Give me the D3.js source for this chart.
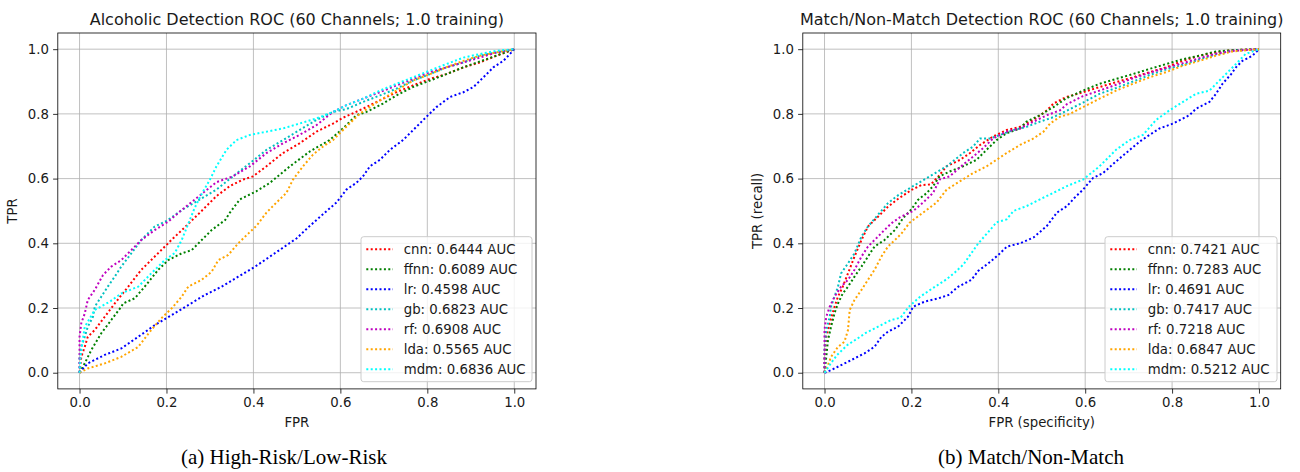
<!DOCTYPE html>
<html><head><meta charset="utf-8">
<script src="https://cdn.jsdelivr.net/npm/d3@7"></script>
<style>body{margin:0;background:#fff}svg{display:block}</style>
</head><body><svg id="c" width="1300" height="472"></svg>
<script>
// ---------------- data ----------------
const models = ["cnn", "ffnn", "lr", "gb", "rf", "lda", "mdm"];
const colors = ["#ff0000", "#008000", "#0000ff", "#00bfbf", "#bf00bf", "#ffa500", "#00ffff"];
const aucAlc = ["0.6444", "0.6089", "0.4598", "0.6823", "0.6908", "0.5565", "0.6836"];
const aucMat = ["0.7421", "0.7283", "0.4691", "0.7417", "0.7218", "0.6847", "0.5212"];
const tickValues = [0, 0.2, 0.4, 0.6, 0.8, 1.0];

// Alcoholic detection ROC curves [FPR, TPR]
const alcCnn = [[0,0],[0.004,0.049],[0.012,0.08],[0.019,0.111],[0.035,0.132],[0.058,0.173],[0.081,0.214],[0.112,0.266],[0.142,0.318],[0.173,0.359],[0.215,0.415],[0.238,0.444],[0.277,0.495],[0.315,0.546],[0.346,0.577],[0.376,0.597],[0.399,0.607],[0.43,0.638],[0.468,0.679],[0.506,0.709],[0.545,0.745],[0.583,0.77],[0.606,0.788],[0.652,0.816],[0.691,0.842],[0.729,0.867],[0.767,0.888],[0.806,0.908],[0.844,0.923],[0.883,0.944],[0.921,0.959],[0.959,0.98],[0.99,0.995],[1,1]];
const alcFfnn = [[0,0],[0.012,0.029],[0.027,0.07],[0.05,0.122],[0.073,0.163],[0.096,0.204],[0.1,0.214],[0.127,0.23],[0.15,0.266],[0.181,0.318],[0.204,0.348],[0.235,0.369],[0.258,0.379],[0.281,0.41],[0.304,0.441],[0.335,0.472],[0.346,0.495],[0.369,0.536],[0.407,0.561],[0.438,0.587],[0.484,0.638],[0.53,0.684],[0.575,0.719],[0.606,0.755],[0.637,0.796],[0.66,0.806],[0.698,0.832],[0.729,0.857],[0.767,0.883],[0.806,0.903],[0.844,0.923],[0.883,0.944],[0.921,0.962],[0.959,0.98],[0.99,0.995],[1,1]];
const alcLr = [[0,0],[0.019,0.029],[0.058,0.055],[0.096,0.075],[0.135,0.111],[0.173,0.147],[0.212,0.178],[0.25,0.209],[0.288,0.24],[0.327,0.266],[0.365,0.297],[0.404,0.328],[0.45,0.37],[0.499,0.415],[0.53,0.454],[0.56,0.49],[0.591,0.526],[0.614,0.566],[0.637,0.587],[0.652,0.607],[0.668,0.638],[0.691,0.658],[0.714,0.689],[0.744,0.719],[0.775,0.76],[0.798,0.791],[0.821,0.821],[0.852,0.852],[0.883,0.867],[0.906,0.883],[0.929,0.913],[0.952,0.944],[0.975,0.964],[0.99,0.985],[1,1]];
const alcGb = [[0,0],[0,0.049],[0.004,0.08],[0.012,0.111],[0.019,0.142],[0.031,0.173],[0.035,0.204],[0.05,0.235],[0.065,0.266],[0.081,0.297],[0.096,0.328],[0.119,0.369],[0.142,0.41],[0.173,0.452],[0.2,0.469],[0.238,0.505],[0.277,0.536],[0.315,0.566],[0.353,0.607],[0.392,0.648],[0.43,0.689],[0.468,0.719],[0.506,0.75],[0.545,0.781],[0.583,0.806],[0.614,0.815],[0.652,0.837],[0.691,0.857],[0.729,0.878],[0.767,0.903],[0.806,0.923],[0.844,0.944],[0.883,0.959],[0.921,0.98],[0.959,0.99],[1,1]];
const alcRf = [[0,0],[0,0.07],[0,0.111],[0.004,0.153],[0.012,0.183],[0.019,0.225],[0.035,0.256],[0.054,0.302],[0.073,0.328],[0.096,0.348],[0.119,0.379],[0.142,0.41],[0.173,0.441],[0.204,0.467],[0.235,0.503],[0.261,0.531],[0.288,0.56],[0.315,0.589],[0.353,0.607],[0.392,0.638],[0.43,0.679],[0.468,0.709],[0.506,0.735],[0.545,0.765],[0.583,0.806],[0.614,0.827],[0.652,0.847],[0.691,0.867],[0.729,0.888],[0.767,0.908],[0.806,0.929],[0.844,0.944],[0.883,0.959],[0.921,0.974],[0.959,0.99],[1,1]];
const alcLda = [[0,0],[0.019,0.013],[0.058,0.029],[0.096,0.049],[0.135,0.08],[0.165,0.132],[0.188,0.168],[0.212,0.199],[0.235,0.235],[0.25,0.266],[0.281,0.287],[0.304,0.312],[0.319,0.348],[0.342,0.364],[0.365,0.4],[0.388,0.43],[0.407,0.454],[0.43,0.495],[0.453,0.526],[0.476,0.556],[0.491,0.597],[0.514,0.638],[0.537,0.674],[0.56,0.699],[0.583,0.719],[0.606,0.75],[0.621,0.77],[0.645,0.801],[0.668,0.821],[0.691,0.842],[0.729,0.872],[0.767,0.903],[0.806,0.923],[0.844,0.944],[0.883,0.964],[0.921,0.98],[0.959,0.99],[1,1]];
const alcMdm = [[0,0],[0.003,0.06],[0.012,0.142],[0.035,0.194],[0.07,0.22],[0.096,0.245],[0.135,0.266],[0.165,0.307],[0.196,0.348],[0.219,0.37],[0.235,0.41],[0.25,0.46],[0.265,0.51],[0.28,0.55],[0.3,0.597],[0.315,0.638],[0.338,0.689],[0.361,0.719],[0.392,0.735],[0.43,0.745],[0.468,0.755],[0.506,0.77],[0.545,0.786],[0.583,0.806],[0.614,0.827],[0.652,0.847],[0.691,0.872],[0.729,0.893],[0.767,0.913],[0.806,0.934],[0.844,0.954],[0.883,0.974],[0.921,0.985],[0.959,0.995],[1,1]];

// Match / non-match detection ROC curves [FPR, TPR]
const matCnn = [[0,0],[0,0.049],[0.004,0.111],[0.012,0.153],[0.023,0.204],[0.031,0.235],[0.042,0.266],[0.054,0.307],[0.069,0.359],[0.085,0.41],[0.1,0.452],[0.123,0.482],[0.146,0.513],[0.169,0.537],[0.2,0.565],[0.223,0.58],[0.245,0.582],[0.262,0.607],[0.281,0.638],[0.312,0.658],[0.335,0.679],[0.358,0.704],[0.388,0.73],[0.419,0.75],[0.45,0.76],[0.481,0.781],[0.512,0.811],[0.527,0.832],[0.556,0.852],[0.595,0.867],[0.633,0.883],[0.671,0.898],[0.71,0.913],[0.748,0.929],[0.786,0.944],[0.825,0.964],[0.863,0.98],[0.901,0.99],[0.939,0.997],[1,1]];
const matFfnn = [[0,0],[0.004,0.049],[0.008,0.101],[0.015,0.142],[0.023,0.184],[0.031,0.214],[0.042,0.245],[0.054,0.266],[0.069,0.297],[0.085,0.328],[0.1,0.359],[0.115,0.39],[0.138,0.41],[0.162,0.441],[0.181,0.478],[0.2,0.505],[0.215,0.534],[0.235,0.555],[0.25,0.577],[0.265,0.607],[0.288,0.622],[0.319,0.638],[0.35,0.658],[0.373,0.689],[0.396,0.719],[0.419,0.74],[0.45,0.755],[0.465,0.776],[0.496,0.796],[0.527,0.821],[0.556,0.848],[0.595,0.872],[0.633,0.893],[0.671,0.908],[0.71,0.923],[0.748,0.939],[0.786,0.954],[0.825,0.969],[0.863,0.98],[0.901,0.993],[0.939,0.997],[1,1]];
const matLr = [[0,0],[0.015,0.008],[0.054,0.034],[0.092,0.06],[0.115,0.08],[0.131,0.111],[0.146,0.127],[0.169,0.142],[0.192,0.173],[0.204,0.204],[0.231,0.22],[0.262,0.23],[0.285,0.24],[0.308,0.266],[0.338,0.287],[0.354,0.315],[0.377,0.338],[0.4,0.364],[0.42,0.39],[0.45,0.4],[0.481,0.418],[0.512,0.454],[0.535,0.495],[0.558,0.515],[0.575,0.54],[0.595,0.566],[0.618,0.602],[0.641,0.617],[0.671,0.653],[0.694,0.679],[0.725,0.714],[0.748,0.735],[0.771,0.755],[0.802,0.77],[0.84,0.796],[0.855,0.816],[0.886,0.837],[0.901,0.862],[0.916,0.893],[0.936,0.923],[0.947,0.944],[0.962,0.964],[0.985,0.98],[1,1]];
const matGb = [[0,0],[0,0.07],[0.004,0.132],[0.012,0.173],[0.015,0.204],[0.023,0.235],[0.031,0.266],[0.038,0.307],[0.054,0.338],[0.069,0.369],[0.085,0.421],[0.1,0.452],[0.123,0.488],[0.146,0.524],[0.169,0.548],[0.204,0.577],[0.242,0.607],[0.281,0.638],[0.319,0.679],[0.342,0.699],[0.358,0.724],[0.381,0.724],[0.404,0.735],[0.435,0.75],[0.465,0.76],[0.496,0.776],[0.527,0.79],[0.558,0.81],[0.595,0.835],[0.633,0.862],[0.671,0.88],[0.71,0.9],[0.748,0.92],[0.786,0.937],[0.825,0.952],[0.863,0.968],[0.901,0.984],[0.939,0.995],[1,1]];
const matRf = [[0,0],[0,0.08],[0,0.132],[0.004,0.173],[0.012,0.204],[0.023,0.235],[0.038,0.266],[0.054,0.287],[0.069,0.318],[0.085,0.359],[0.1,0.39],[0.115,0.41],[0.138,0.441],[0.154,0.462],[0.173,0.48],[0.204,0.5],[0.227,0.526],[0.25,0.556],[0.265,0.597],[0.288,0.607],[0.319,0.643],[0.342,0.668],[0.365,0.694],[0.388,0.724],[0.419,0.745],[0.45,0.755],[0.481,0.776],[0.512,0.796],[0.542,0.811],[0.558,0.83],[0.595,0.855],[0.633,0.872],[0.671,0.89],[0.71,0.91],[0.748,0.927],[0.786,0.942],[0.825,0.957],[0.863,0.972],[0.901,0.986],[0.939,0.995],[1,1]];
const matLda = [[0,0],[0.008,0.024],[0.015,0.049],[0.031,0.08],[0.046,0.096],[0.054,0.132],[0.058,0.194],[0.069,0.225],[0.085,0.256],[0.1,0.287],[0.115,0.318],[0.131,0.359],[0.146,0.39],[0.162,0.41],[0.177,0.43],[0.196,0.464],[0.227,0.495],[0.258,0.526],[0.281,0.566],[0.312,0.592],[0.342,0.617],[0.373,0.638],[0.396,0.658],[0.419,0.679],[0.45,0.704],[0.481,0.724],[0.504,0.745],[0.519,0.77],[0.542,0.791],[0.565,0.8],[0.595,0.821],[0.633,0.847],[0.671,0.872],[0.71,0.893],[0.748,0.913],[0.786,0.929],[0.825,0.949],[0.863,0.964],[0.901,0.98],[0.939,0.993],[1,1]];
const matMdm = [[0,0],[0.015,0.03],[0.029,0.055],[0.053,0.086],[0.075,0.105],[0.095,0.123],[0.12,0.14],[0.153,0.163],[0.175,0.17],[0.194,0.204],[0.22,0.235],[0.25,0.262],[0.28,0.288],[0.3,0.31],[0.32,0.335],[0.354,0.4],[0.377,0.435],[0.396,0.465],[0.419,0.474],[0.435,0.5],[0.465,0.515],[0.496,0.536],[0.527,0.556],[0.558,0.577],[0.595,0.597],[0.633,0.638],[0.671,0.689],[0.702,0.719],[0.733,0.735],[0.763,0.781],[0.794,0.811],[0.825,0.837],[0.855,0.862],[0.886,0.872],[0.909,0.903],[0.932,0.934],[0.947,0.954],[0.969,0.985],[1,1]];

// ---------------- drawing ----------------
const panels = [
  {left: 57.8, right: 536.0, title: "Alcoholic Detection ROC (60 Channels; 1.0 training)",
   xlabel: "FPR", ylabel: "TPR", curves: [alcCnn, alcFfnn, alcLr, alcGb, alcRf, alcLda, alcMdm],
   aucs: aucAlc, legendX: 361, legendW: 171, caption: "(a) High-Risk/Low-Risk", captionX: 284, ylabelX: 17},
  {left: 802.8, right: 1280.7, title: "Match/Non-Match Detection ROC (60 Channels; 1.0 training)",
   xlabel: "FPR (specificity)", ylabel: "TPR (recall)", curves: [matCnn, matFfnn, matLr, matGb, matRf, matLda, matMdm],
   aucs: aucMat, legendX: 1105, legendW: 172, caption: "(b) Match/Non-Match", captionX: 1031, ylabelX: 762}
];
const axTop = 33.0, axBottom = 388.9;
const font = "'DejaVu Sans', sans-serif";
const txt = "#1a1a1a";
const dotW = 2.0, dotDash = "2,2.4";
const svg = d3.select("#c");
svg.append("rect").attr("width", 1300).attr("height", 472).attr("fill", "#fff");

panels.forEach(p => {
  const x = d3.scaleLinear().domain([-0.05, 1.05]).range([p.left, p.right]);
  const y = d3.scaleLinear().domain([-0.05, 1.05]).range([axBottom, axTop]);
  const g = svg.append("g");

  // grid
  g.selectAll(".gx").data(tickValues).enter().append("line")
    .attr("x1", d => x(d)).attr("x2", d => x(d)).attr("y1", axTop).attr("y2", axBottom)
    .attr("stroke", "#b0b0b0").attr("stroke-width", 0.8);
  g.selectAll(".gy").data(tickValues).enter().append("line")
    .attr("y1", d => y(d)).attr("y2", d => y(d)).attr("x1", p.left).attr("x2", p.right)
    .attr("stroke", "#b0b0b0").attr("stroke-width", 0.8);

  // curves
  const line = d3.line().x(d => x(d[0])).y(d => y(d[1]));
  p.curves.forEach((c, i) => {
    g.append("path").datum(c).attr("d", line).attr("fill", "none")
      .attr("stroke", colors[i]).attr("stroke-width", dotW).attr("stroke-dasharray", dotDash);
  });

  // axes
  const ax = g.append("g").attr("transform", `translate(0,${axBottom})`)
    .call(d3.axisBottom(x).tickValues(tickValues).tickFormat(d3.format(".1f")).tickSize(4.7).tickPadding(4.2));
  const ay = g.append("g").attr("transform", `translate(${p.left},0)`)
    .call(d3.axisLeft(y).tickValues(tickValues).tickFormat(d3.format(".1f")).tickSize(4.7).tickPadding(4.2));
  [ax, ay].forEach(a => {
    a.select(".domain").remove();
    a.selectAll(".tick line").attr("stroke", "#000").attr("stroke-width", 0.8);
    a.selectAll(".tick text").attr("fill", txt).style("font-family", font).style("font-size", "13.3px");
  });

  // frame
  g.append("rect").attr("x", p.left).attr("y", axTop).attr("width", p.right - p.left).attr("height", axBottom - axTop)
    .attr("fill", "none").attr("stroke", "#000").attr("stroke-width", 0.8);

  // title & labels
  g.append("text").attr("x", (p.left + p.right) / 2).attr("y", 25).attr("text-anchor", "middle")
    .style("font-family", font).style("font-size", "16px").attr("fill", txt).text(p.title);
  g.append("text").attr("x", (p.left + p.right) / 2).attr("y", 427).attr("text-anchor", "middle")
    .style("font-family", font).style("font-size", "13.3px").attr("fill", txt).text(p.xlabel);
  g.append("text").attr("transform", `translate(${p.ylabelX},${(axTop + axBottom) / 2}) rotate(-90)`)
    .attr("text-anchor", "middle").style("font-family", font).style("font-size", "13.3px")
    .attr("fill", txt).text(p.ylabel);

  // legend
  const lg = g.append("g");
  const ly0 = 236.7, rowH = 20.0;
  lg.append("rect").attr("x", p.legendX).attr("y", ly0).attr("width", p.legendW).attr("height", 145)
    .attr("rx", 2.7).attr("fill", "#fff").attr("fill-opacity", 0.8).attr("stroke", "#cccccc").attr("stroke-width", 1);
  models.forEach((m, i) => {
    const cy = ly0 + 12.6 + i * rowH;
    lg.append("line").attr("x1", p.legendX + 5.3).attr("x2", p.legendX + 32).attr("y1", cy).attr("y2", cy)
      .attr("stroke", colors[i]).attr("stroke-width", dotW).attr("stroke-dasharray", dotDash);
    lg.append("text").attr("x", p.legendX + 42.7).attr("y", cy).attr("dy", "0.36em")
      .style("font-family", font).style("font-size", "13.3px").attr("fill", txt)
      .text(`${m}: ${p.aucs[i]} AUC`);
  });

  // caption
  svg.append("text").attr("x", p.captionX).attr("y", 464).attr("text-anchor", "middle")
    .style("font-family", "'Liberation Serif', 'Times New Roman', serif").style("font-size", "21px")
    .attr("fill", "#000").text(p.caption);
});
</script>
</body></html>
